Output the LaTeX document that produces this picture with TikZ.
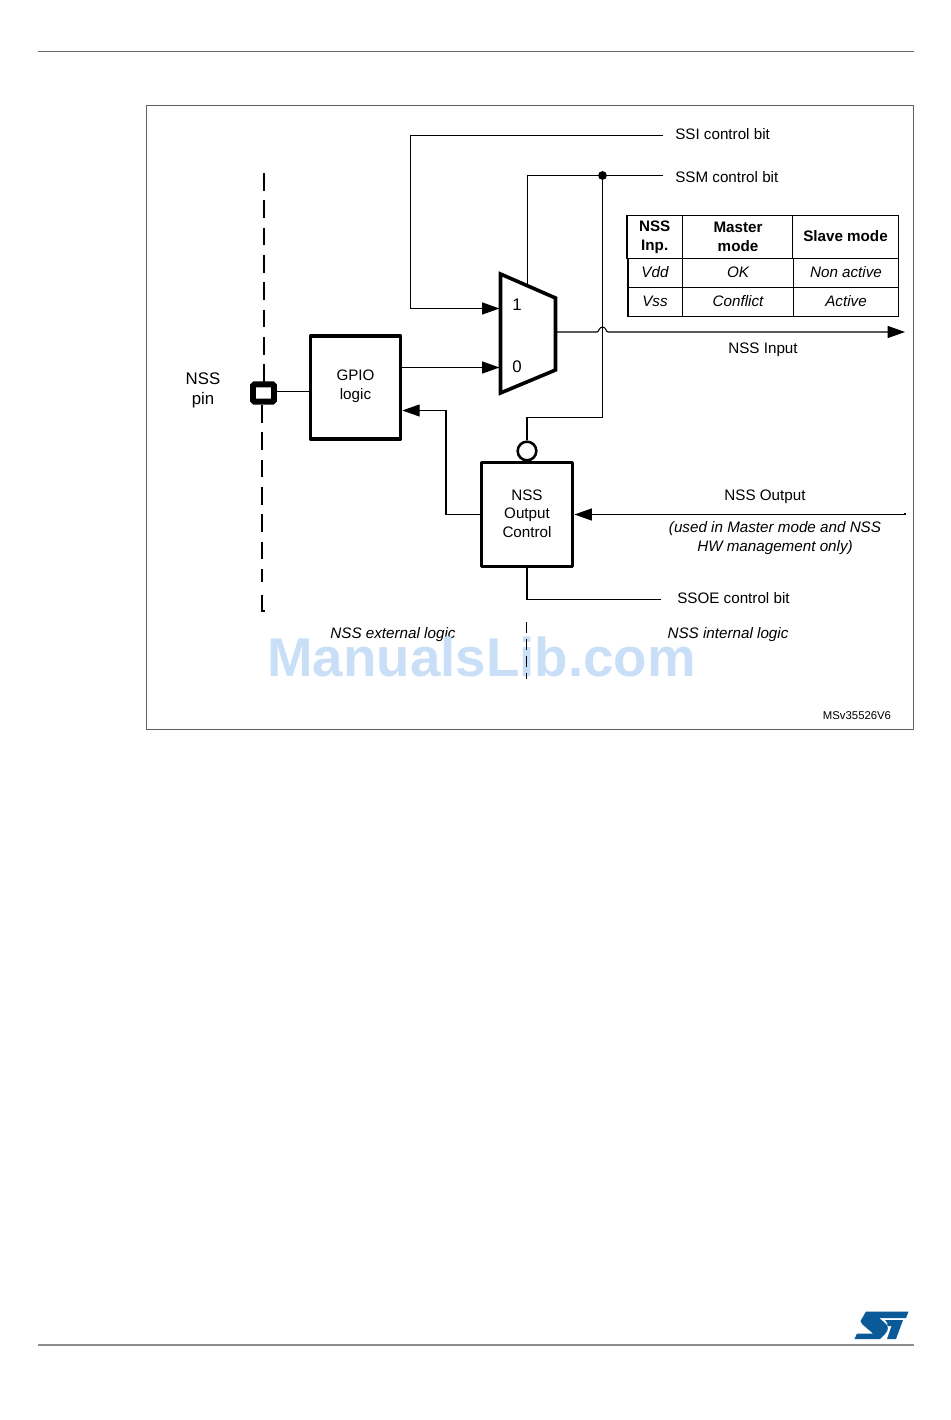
\documentclass[tikz,border=0pt]{standalone}
\usepackage{fontspec}
\setmainfont{Liberation Sans}
\usetikzlibrary{arrows.meta}
\definecolor{stblue}{HTML}{0B5A98}
\definecolor{wm}{HTML}{C9DEF7}
\tikzset{
  x=0.75pt,y=-0.75pt,
  thinl/.style={line width=0.78pt,black},
  arr/.style={thinl,-{Triangle[length=13pt,width=9pt]}},
  thickbox/.style={draw,line width=2.7pt,line join=round,inner sep=0pt,align=center,font=\fontsize{11.4}{14}\selectfont},
  lab/.style={inner sep=0pt,align=center,font=\fontsize{11.4}{14}\selectfont},
  ilab/.style={lab,font=\fontsize{11.4}{14}\selectfont\itshape},
  hlab/.style={lab,font=\fontsize{11.4}{14.2}\selectfont\bfseries},
  grid/.style={line width=0.8pt,black},
  dashl/.style={line width=1.5pt,black,dash pattern=on 13.3pt off 7.2pt},
}
\begin{document}
\begin{tikzpicture}
\useasboundingbox (0,0) rectangle (950,1420);
% page rules and frame
\draw[line width=0.8pt,black!60] (38,51.5) -- (914,51.5);
\draw[line width=1.1pt,black!45] (38,1345) -- (914,1345);
\draw[line width=0.75pt,black!62] (146,105.5) rectangle (913.5,729.5);
% blocks
\node[thickbox,minimum width=67.5pt,minimum height=77.5pt] (gpio) at (355.5,387.5) {};
\node[lab] (gpiot) at (355.5,386.5) {GPIO\\logic};
\node[thickbox,minimum width=68.5pt,minimum height=78pt] (ctl) at (527,514.5) {};
\node[lab] (ctlt) at (527,513.5) {NSS\\Output\\Control};
\node[circle,draw,line width=1.9pt,minimum size=14pt,inner sep=0pt] (bub) at (527,451) {};
\node[draw,line width=4.4pt,rounded corners=1pt,minimum width=15.75pt,minimum height=13pt,inner sep=0pt] (pin) at (263.5,393) {};
% mux
\coordinate (m1) at (500.5,274);
\coordinate (m2) at (555.5,298);
\coordinate (m3) at (555.5,370);
\coordinate (m4) at (500.5,393);
\draw[line width=2.7pt,line join=miter] (m1) -- (m2) -- (m3) -- (m4) -- cycle;
\node[lab,font=\fontsize{12.6}{14}\selectfont] (one) at (517,305) {1};
\node[lab,font=\fontsize{12.6}{14}\selectfont] (zero) at (517,367) {0};
\coordinate (in1) at (499.5,308.5);
\coordinate (in0) at (499.5,367.5);
\coordinate (mtop) at (527.5,286);
\coordinate (mout) at (556,332);
% text labels
\node[lab,anchor=west] (ssi) at (675,134) {SSI control bit};
\node[lab,anchor=west] (ssm) at (675,177) {SSM control bit};
\node[lab] (nssin) at (763,349.5) {NSS Input};
\node[lab] (nssout) at (765,496.5) {NSS Output};
\node[ilab] (note) at (775,538) {(used in Master mode and NSS\\HW management only)};
\node[lab,anchor=west] (ssoe) at (677,598) {SSOE control bit};
\node[ilab] (ext) at (393,634.5) {NSS external logic};
\node[ilab] (int) at (728,634.5) {NSS internal logic};
\node[lab,font=\fontsize{12.6}{15}\selectfont] (pinlab) at (203,390.5) {NSS\\pin};
\node[lab,font=\fontsize{8.5}{10}\selectfont] (code) at (857,716) {MSv35526V6};
% connector free ends
\coordinate (ssiend) at (663,135.5);
\coordinate (ssmend) at (663,175.5);
\coordinate (ssoeend) at (661,599.5);
\coordinate (inend) at (905,332);
\coordinate (outend) at (905,514.5);
\node[circle,fill=black,inner sep=0pt,minimum size=6.6pt] (dot) at (602.5,175.5) {};
% connectors
\draw[arr] (ssiend) -- (410.5,135.5) -- (410.5,308.5) -- (in1);
\draw[thinl] (ssmend) -- (527.5,175.5) -- (mtop);
\draw[thinl] (dot.center) -- (602.5,417.5) -- (527,417.5) -- (bub.north);
\draw[arr] (mout) -- (597,332) .. controls (599,332) and (599,327) .. (602.5,327) .. controls (606,327) and (606,332) .. (608,332) -- (inend);
\draw[arr] (gpio.east |- in0) -- (in0);
\draw[arr] (ctl.west) -- (446,514.5) -- (446,410.5) -- (gpio.east |- 0,410.5);
\draw[arr] (outend) -- (ctl.east);
\draw[thinl] (905,512.5) -- (outend);
\draw[thinl] (ctl.south) -- (527,599.5) -- (ssoeend);
\draw[thinl] (pin.east |- 0,391.5) -- (gpio.west |- 0,391.5);
% dashed boundary
\coordinate (da) at (264,173);
\coordinate (db) at (262,610.5);
\draw[dashl] (da) -- (264,382);
\draw[dashl] (262,405) -- (262,582);
\draw[line width=1.5pt] (262,595) -- (db) -- (264.5,610.5);
% table
\draw[grid] (627,215.5) rectangle (898.5,258.5);
\draw[grid] (628,258.5) rectangle (898.5,316.5);
\draw[grid] (628,287.5) -- (898.5,287.5);
\draw[grid] (682.5,215.5) -- (682.5,316.5);
\draw[grid] (792.5,215.5) -- (792.5,258.5);
\draw[grid] (793.5,258.5) -- (793.5,316.5);
\draw[line width=1.3pt] (627,258.5) -- (898.5,258.5);
\node[hlab] (t11) at (654.7,237) {NSS\\Inp.};
\node[hlab] (t12) at (738,237) {Master\\mode};
\node[hlab] (t13) at (845.5,236) {Slave mode};
\node[ilab] (t21) at (655,272) {Vdd};
\node[ilab] (t22) at (738,272) {OK};
\node[ilab] (t23) at (846,272) {Non active};
\node[ilab] (t31) at (655,301) {Vss};
\node[ilab] (t32) at (738,301) {Conflict};
\node[ilab] (t33) at (846,301) {Active};
% watermark
\node[inner sep=0pt,text=wm,font=\fontsize{41}{42}\selectfont\bfseries] (wmk) at (481.5,657) {ManualsLib.com};
\draw[line width=0.9pt,dash pattern=on 8.25pt off 4.5pt] (526.5,622) -- (526.5,679);
% logo
\fill[stblue] (866,1311.5) -- (908.5,1311.5) -- (906,1318) -- (879,1318) -- (884,1322) .. controls (889,1326) and (889,1330) .. (885,1334) -- (880,1339) -- (854.5,1339) -- (857,1333.5) -- (873,1333.5) -- (862,1324) -- (860.5,1321) -- cycle;
\fill[stblue] (885,1320) -- (903,1320) -- (896,1339) -- (887,1339) -- (891.5,1326) -- (887.5,1326) .. controls (888,1323.5) and (887,1322) .. (885,1320) -- cycle;
\end{tikzpicture}
\end{document}
